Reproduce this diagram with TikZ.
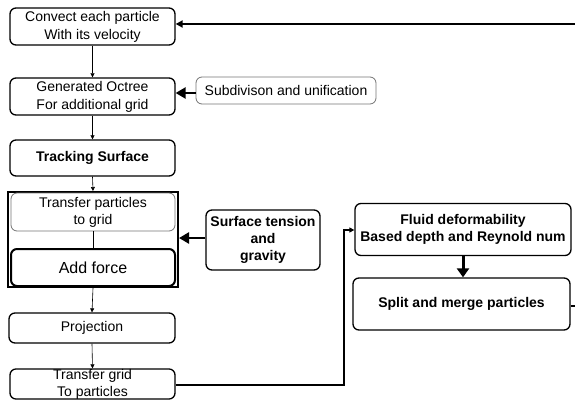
\documentclass[tikz,border=0pt]{standalone}
\usepackage{fontspec}
\setmainfont{Liberation Sans}
\usetikzlibrary{arrows.meta}
\begin{document}
\begin{tikzpicture}[x=1pt,y=-1pt,
  box/.style={draw,line width=1.3pt,rounded corners=6pt,align=center,inner sep=0pt,
    font=\fontsize{14}{18}\selectfont},
  lightbox/.style={draw=black!55,line width=0.8pt,rounded corners=6pt,align=center,inner sep=0pt,
    font=\fontsize{14}{17}\selectfont},
  thin/.style={-{Triangle[length=4pt,width=4pt]},line width=0.6pt},
  thick/.style={-{Triangle[length=10pt,width=11pt]},line width=2.8pt},
  heavy/.style={line width=2pt}]
\useasboundingbox (0,0) rectangle (575,401);
\node[box,minimum width=165pt,minimum height=37pt] (c1) at (92.5,26.5) {Convect each particle\\With its velocity};
\node[box,minimum width=165pt,minimum height=37pt] (c2) at (92.5,96.5) {Generated Octree\\For additional grid};
\node[lightbox,minimum width=180pt,minimum height=27pt] (sub) at (286,90.5) {Subdivison and unification};
\node[box,minimum width=165pt,minimum height=36pt,font=\fontsize{14}{18}\selectfont\bfseries] (c3) at (92.5,158) {Tracking Surface};
\node[draw,line width=2pt,minimum width=170pt,minimum height=95pt,inner sep=0pt] (grp) at (93,239.5) {};
\node[lightbox,minimum width=164pt,minimum height=38pt] (tp) at (93,212) {Transfer particles\\to grid};
\node[box,line width=2pt,minimum width=164pt,minimum height=37pt,font=\fontsize{16}{18}\selectfont] (af) at (93,267.5) {Add force};
\node[box,minimum width=114pt,minimum height=60pt,font=\fontsize{14}{17}\selectfont\bfseries] (surf) at (263,240) {Surface tension\\and\\gravity};
\node[box,minimum width=166pt,minimum height=30pt] (proj) at (92,328) {Projection};
\node[box,minimum width=165pt,minimum height=30pt,font=\fontsize{14}{17}\selectfont] (tg) at (92.5,384) {Transfer grid\\To particles};
\node[box,minimum width=216pt,minimum height=52pt,font=\fontsize{14}{16.5}\selectfont\bfseries] (fl) at (463,229.5) {Fluid deformability\\Based depth and Reynold num};
\node[box,minimum width=217pt,minimum height=52pt,font=\fontsize{14}{18}\selectfont\bfseries] (sp) at (461.5,304) {Split and merge particles};
\coordinate (r1) at (575,24);
\coordinate (r2) at (575,306);
\coordinate (k1) at (344,385);
\coordinate (k2) at (344,230);
\draw[line width=2pt,-{Triangle[length=7pt,width=7pt]}] (r1) -- (r1 -| c1.east);
\draw[thin] (c1.south) -- (c2.north);
\draw[thick] (sub.west |- 0,93) -- (c2.east |- 0,93);
\draw[thin] (c2.south) -- (c3.north);
\draw[thin] (c3.south) -- (grp.north);
\draw[line width=1pt] (tp.south) -- (af.north);
\draw[thick] (surf.west |- 0,238) -- (grp.east |- 0,238);
\draw[thin] (grp.south) -- (proj.north);
\draw[thin] (proj.south) -- (tg.north);
\draw[heavy,-{Triangle[length=5pt,width=5pt]}] (tg.east |- k1) -- (k1) -- (k2) -- (fl.west |- k2);
\draw[line width=3pt,-{Triangle[length=9pt,width=12pt]}] (fl.south) -- (fl.south |- sp.north);
\draw[heavy] (sp.east |- r2) -- (r2);
\end{tikzpicture}
\end{document}
